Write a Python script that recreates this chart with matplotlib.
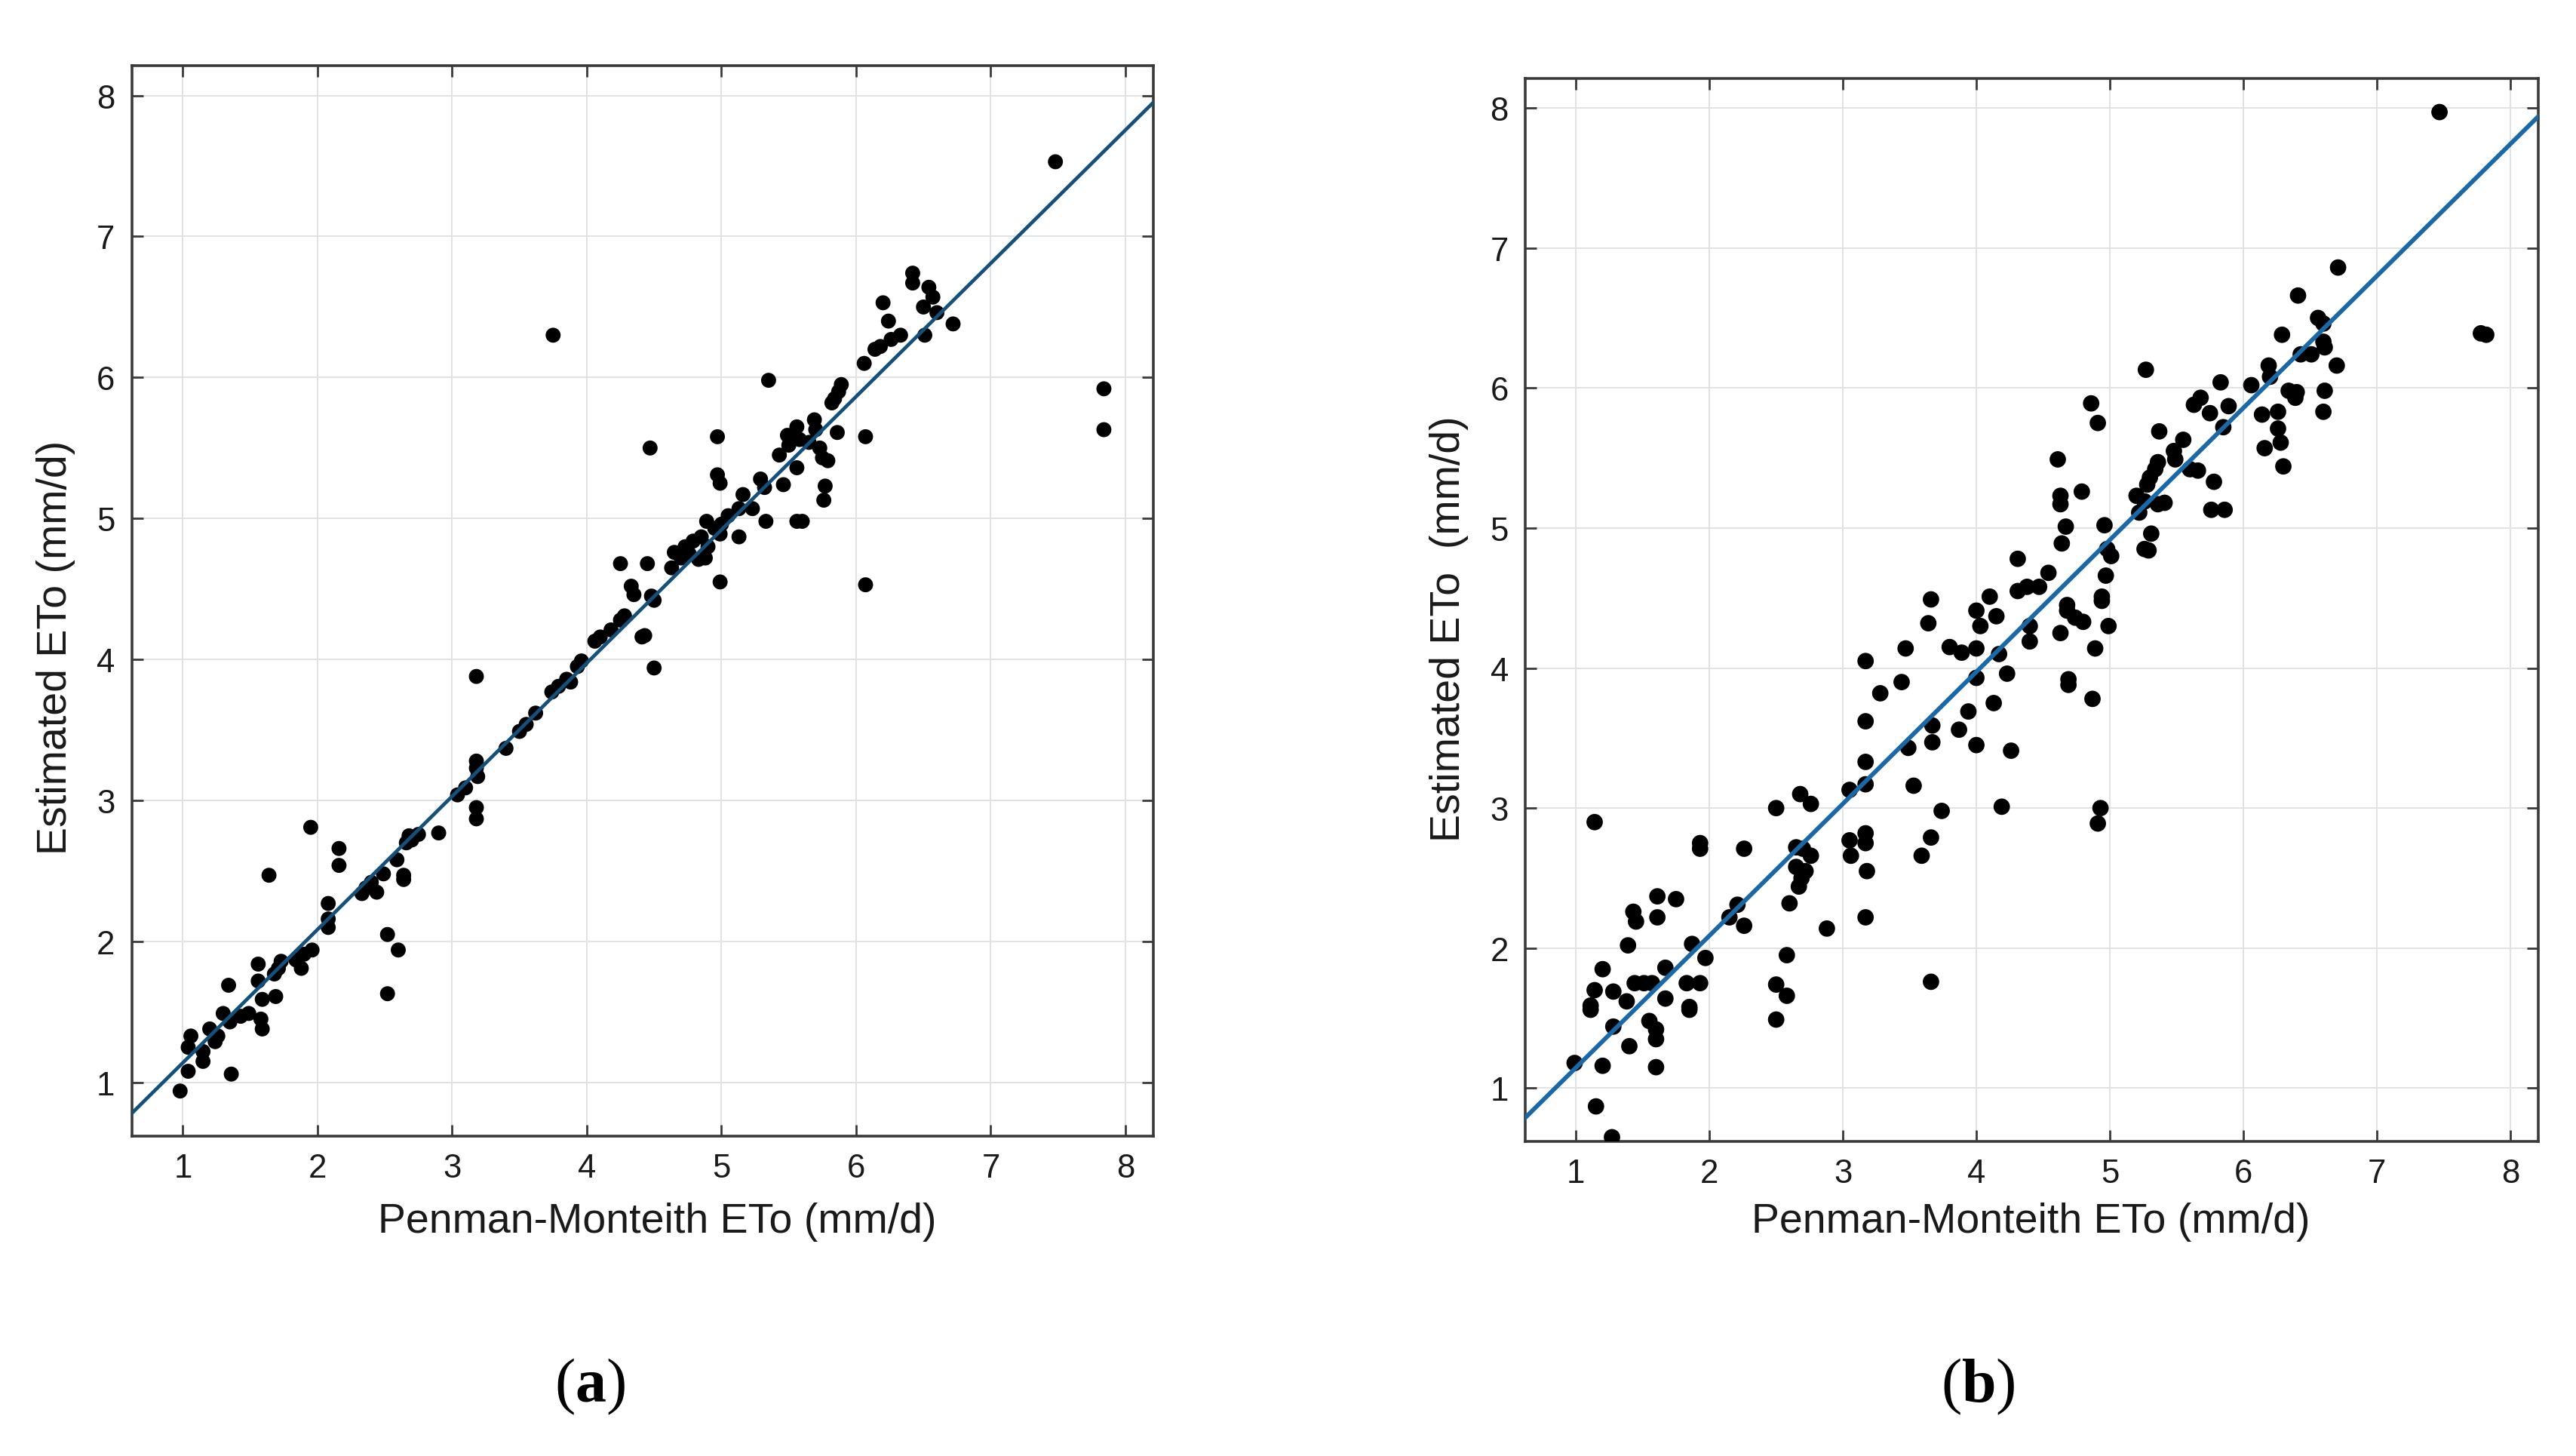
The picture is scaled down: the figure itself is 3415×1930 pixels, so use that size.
import matplotlib
matplotlib.use("Agg")
import matplotlib.pyplot as plt
import numpy as np

plt.rcParams['font.family'] = ['Liberation Sans', 'DejaVu Sans']
plt.rcParams['mathtext.fontset'] = 'custom'
plt.rcParams['mathtext.rm'] = 'Liberation Serif'
plt.rcParams['mathtext.bf'] = 'Liberation Serif:bold'

# ---------------- data ----------------
ticks = [1, 2, 3, 4, 5, 6, 7, 8]
axis_limits = (0.62, 8.21)

# fitted line (slope, intercept)
fit_a = (0.945, 0.195)
fit_b = (0.942, 0.205)

a_x = [3.75, 4.47, 4.25, 4.45, 4.33,
       7.48, 6.42, 6.42, 6.54, 6.57, 6.20, 6.50, 6.60, 6.24, 6.72, 6.33, 6.26, 6.18, 6.14, 6.51,
       6.06, 5.35, 5.89, 5.87, 5.84, 5.82, 7.84, 7.84, 4.97, 6.07, 5.69, 5.56, 5.49, 5.70, 5.86,
       5.43, 5.50, 5.58, 5.65, 5.73, 5.75, 5.79, 5.56, 5.77, 5.76, 5.46, 5.29, 5.32, 5.16, 5.23,
       5.13, 5.33, 5.56, 5.60, 4.97, 4.99, 4.89, 5.00, 4.99, 5.13, 4.65, 4.73, 4.79, 4.85, 4.90,
       4.83, 4.88, 4.63, 4.99, 6.07, 4.48,
       3.18, 4.41, 4.50, 4.35, 4.25, 4.18, 4.10, 4.06, 4.28, 3.96, 3.93, 3.85, 3.79, 3.74, 3.88,
       3.62, 3.55, 3.50, 3.40, 3.18, 3.18, 3.19, 3.10, 3.04, 3.18, 3.18, 2.90, 2.75, 2.70, 2.66,
       2.68, 2.59, 2.49, 2.64, 2.64, 2.40, 2.44, 2.33, 2.36, 1.95, 2.16, 2.16, 1.64, 2.08, 2.08,
       2.08, 2.52, 2.60, 2.52, 1.96, 1.90, 1.84, 1.73, 1.68, 1.71, 1.88, 1.69, 1.56, 1.56, 1.59,
       1.59, 1.58, 1.34, 1.49, 1.43, 1.35, 1.30, 1.26, 1.20, 1.24, 1.15, 1.06, 1.04, 1.15, 1.04,
       1.36, 0.98, 4.43, 4.50, 4.70, 4.76, 4.95, 5.05]
a_y = [6.30, 5.50, 4.68, 4.68, 4.52,
       7.53, 6.74, 6.67, 6.64, 6.57, 6.53, 6.50, 6.46, 6.40, 6.38, 6.30, 6.27, 6.22, 6.20, 6.30,
       6.10, 5.98, 5.95, 5.90, 5.85, 5.82, 5.92, 5.63, 5.58, 5.58, 5.70, 5.65, 5.59, 5.63, 5.61,
       5.45, 5.52, 5.56, 5.54, 5.50, 5.43, 5.41, 5.36, 5.23, 5.13, 5.24, 5.28, 5.22, 5.17, 5.07,
       5.07, 4.98, 4.98, 4.98, 5.31, 5.25, 4.98, 4.96, 4.89, 4.87, 4.76, 4.80, 4.84, 4.87, 4.80,
       4.71, 4.72, 4.65, 4.55, 4.53, 4.45,
       3.88, 4.16, 3.94, 4.46, 4.28, 4.21, 4.16, 4.13, 4.31, 3.99, 3.95, 3.86, 3.81, 3.77, 3.84,
       3.62, 3.54, 3.49, 3.37, 3.28, 3.23, 3.17, 3.09, 3.04, 2.95, 2.87, 2.77, 2.76, 2.72, 2.70,
       2.75, 2.58, 2.48, 2.47, 2.44, 2.42, 2.35, 2.34, 2.38, 2.81, 2.66, 2.54, 2.47, 2.27, 2.16,
       2.10, 2.05, 1.94, 1.63, 1.94, 1.91, 1.87, 1.86, 1.77, 1.81, 1.81, 1.61, 1.84, 1.72, 1.59,
       1.38, 1.45, 1.69, 1.49, 1.47, 1.43, 1.49, 1.33, 1.38, 1.29, 1.22, 1.33, 1.25, 1.15, 1.08,
       1.06, 0.94, 4.17, 4.42, 4.72, 4.75, 4.93, 5.02]

b_x = [4.31, 3.66, 4.10, 4.31, 4.00,
       7.47, 7.78, 7.82, 6.71, 6.41, 6.56, 6.60, 6.29, 6.60, 6.61, 6.43, 6.51, 6.70, 6.19, 6.20,
       6.06, 5.83, 5.68, 5.63, 5.89, 5.75, 5.85, 6.34, 6.40, 6.39, 6.61, 6.60, 6.14, 6.26, 6.26,
       6.28, 6.16, 6.30, 5.27, 4.86, 4.91, 5.37, 5.55, 5.48, 5.49, 5.36, 5.34, 5.30, 5.28, 5.60,
       5.66, 5.78, 5.76, 5.86, 5.20, 5.26, 5.22, 5.36, 5.41, 5.31, 5.26, 5.29, 4.61, 4.79, 4.63,
       4.63, 4.67, 4.64, 4.96, 4.98, 5.01, 4.54, 4.38, 4.47, 4.97, 4.94, 4.68,
       1.14, 1.93, 1.93, 2.26, 2.50, 2.68, 2.76, 3.17, 3.28, 3.44, 3.47, 3.64, 4.03, 4.15, 3.80,
       3.89, 4.00, 4.17, 4.23, 4.00, 3.94, 4.13, 3.87, 4.00, 4.26, 3.67, 3.67, 3.49, 3.53, 3.74,
       4.19, 3.66, 3.59, 3.66, 3.17, 3.17, 3.17, 3.05, 3.05, 3.17, 3.17, 3.06, 3.18, 3.17, 2.88,
       2.65, 2.70, 2.76, 2.65, 2.72, 2.69, 2.67, 2.60, 2.21, 2.15, 2.26, 2.58, 2.50, 2.58, 2.50,
       1.87, 1.97, 1.83, 1.93, 1.85, 1.85, 1.61, 1.75, 1.61, 1.43, 1.45, 1.39, 1.67, 1.67, 1.20,
       1.14, 1.11, 1.11, 1.28, 1.38, 1.44, 1.51, 1.57, 1.28, 1.55, 1.60, 1.60, 1.40, 1.60, 1.20,
       0.99, 1.15, 1.27,
       4.94, 4.68, 4.74, 4.80, 4.99, 4.63, 4.40, 4.40, 4.89, 4.69, 4.69, 4.87, 4.93, 4.91]
b_y = [4.78, 4.49, 4.51, 4.55, 4.41,
       7.97, 6.39, 6.38, 6.86, 6.66, 6.50, 6.46, 6.38, 6.33, 6.29, 6.24, 6.24, 6.16, 6.16, 6.08,
       6.02, 6.04, 5.93, 5.88, 5.87, 5.82, 5.72, 5.98, 5.97, 5.93, 5.98, 5.83, 5.81, 5.83, 5.71,
       5.61, 5.57, 5.44, 6.13, 5.89, 5.75, 5.69, 5.63, 5.55, 5.49, 5.47, 5.42, 5.36, 5.31, 5.42,
       5.41, 5.33, 5.13, 5.13, 5.23, 5.19, 5.11, 5.17, 5.18, 4.96, 4.85, 4.84, 5.49, 5.26, 5.23,
       5.17, 5.01, 4.89, 5.02, 4.85, 4.80, 4.68, 4.58, 4.58, 4.66, 4.51, 4.45,
       2.90, 2.75, 2.71, 2.71, 3.00, 3.10, 3.03, 4.05, 3.82, 3.90, 4.14, 4.32, 4.30, 4.37, 4.15,
       4.11, 4.14, 4.10, 3.96, 3.93, 3.69, 3.75, 3.56, 3.45, 3.41, 3.59, 3.47, 3.43, 3.16, 2.98,
       3.01, 2.79, 2.66, 1.76, 3.62, 3.33, 3.17, 3.13, 2.77, 2.82, 2.75, 2.66, 2.55, 2.22, 2.14,
       2.72, 2.71, 2.66, 2.58, 2.55, 2.50, 2.44, 2.32, 2.31, 2.22, 2.16, 1.95, 1.74, 1.66, 1.49,
       2.03, 1.93, 1.75, 1.75, 1.58, 1.56, 2.37, 2.35, 2.22, 2.26, 2.19, 2.02, 1.86, 1.64, 1.85,
       1.70, 1.59, 1.56, 1.69, 1.62, 1.75, 1.75, 1.75, 1.44, 1.48, 1.42, 1.35, 1.30, 1.15, 1.16,
       1.18, 0.87, 0.65,
       4.48, 4.41, 4.36, 4.33, 4.30, 4.25, 4.30, 4.19, 4.14, 3.92, 3.88, 3.78, 3.00, 2.89]

x_label = "Penman-Monteith ETo (mm/d)"
y_label_a = "Estimated ETo (mm/d)"
y_label_b = "Estimated ETo  (mm/d)"
panel_labels = [r"($\mathbf{a}$)", r"($\mathbf{b}$)"]

# ---------------- figure ----------------
W, H = 3415, 1931
fig = plt.figure(figsize=(W / 100, H / 100), dpi=100)

def px_rect(l, t, r, b):
    return [l / W, 1 - b / H, (r - l) / W, (b - t) / H]

ax_a = fig.add_axes(px_rect(174.5, 88.3, 1529.5, 1507))
ax_b = fig.add_axes(px_rect(2022, 105, 3365, 1514))

def style(ax, xs, ys, fit, line_color, lw, ms):
    ax.set_xlim(*axis_limits)
    ax.set_ylim(*axis_limits)
    ax.set_xticks(ticks)
    ax.set_yticks(ticks)
    ax.grid(True, color='#dfe3e6', linewidth=1.4, zorder=0)
    ax.set_axisbelow(True)
    ax.scatter(xs, ys, s=ms, color='black', edgecolors='none', zorder=3)
    lx = np.array(axis_limits)
    ax.plot(lx, fit[0] * lx + fit[1], color=line_color, linewidth=lw, zorder=4)
    for sp in ax.spines.values():
        sp.set_color('#3a3a3a')
        sp.set_linewidth(2.6)
    ax.tick_params(direction='in', length=11, width=2.0, color='#3a3a3a',
                   top=True, right=True, labelsize=31.5, labelcolor='#1a1a1a', pad=16)

style(ax_a, a_x, a_y, fit_a, '#13507c', 3.4, 205)
style(ax_b, b_x, b_y, fit_b, '#1a69a6', 4.2, 245)

lab_kw = dict(fontsize=40, color='#1a1a1a', ha='center', va='center')
fig.text(871 / W, 1 - 1620 / H, x_label, **lab_kw)
fig.text(2692 / W, 1 - 1620 / H, x_label, **lab_kw)
fig.text(74 / W, 1 - 858 / H, y_label_a, rotation=90, **lab_kw)
fig.text(1921 / W, 1 - 834 / H, y_label_b, rotation=90, **lab_kw)

fig.text(782.5 / W, 1 - 1838 / H, panel_labels[0], fontsize=59, ha='center', va='center',
         family='Liberation Serif')
fig.text(2622.5 / W, 1 - 1838 / H, panel_labels[1], fontsize=59, ha='center', va='center',
         family='Liberation Serif')

fig.savefig("out.png", dpi=100, facecolor='white')
